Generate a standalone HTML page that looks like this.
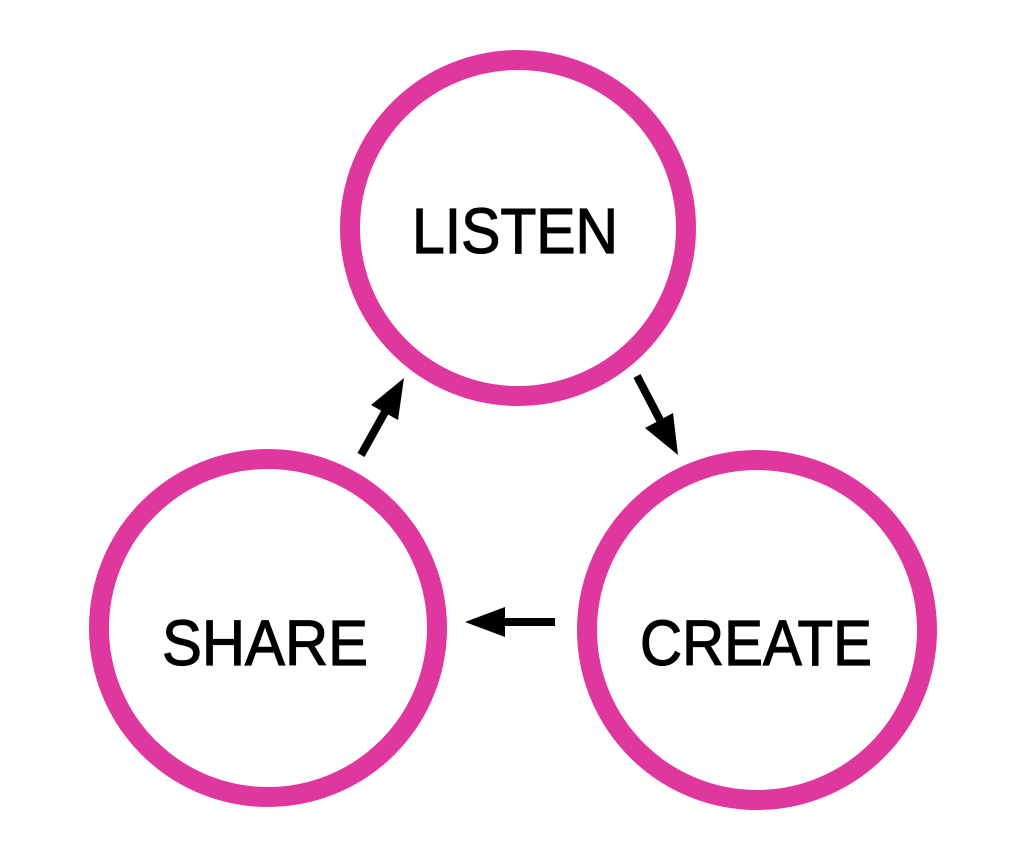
<!DOCTYPE html>
<html><head><style>html,body{margin:0;padding:0;background:#fff}</style></head>
<body>
<svg width="1024" height="862" viewBox="0 0 1024 862" xmlns="http://www.w3.org/2000/svg">
<g fill="none" stroke="#E0379F" stroke-width="20">
<circle cx="518" cy="228" r="168"/>
<circle cx="268" cy="628" r="169"/>
<circle cx="757" cy="630" r="170"/>
</g>
<g stroke="#000" stroke-width="8">
<line x1="637" y1="376" x2="660" y2="420"/>
<line x1="555" y1="622" x2="500" y2="622"/>
<line x1="361" y1="455" x2="385" y2="412"/>
</g>
<g fill="#000">
<polygon points="678,455 645,428 673,413"/>
<polygon points="465,622 505,607 505,637"/>
<polygon points="404,378 398,420 371,405"/>
</g>
<g font-family="Liberation Sans, sans-serif" font-size="64" fill="#000" stroke="#000" stroke-width="1.2">
<text x="412" y="253" textLength="206" lengthAdjust="spacingAndGlyphs">LISTEN</text>
<text x="162" y="665" textLength="206" lengthAdjust="spacingAndGlyphs">SHARE</text>
<text x="640" y="665" textLength="232" lengthAdjust="spacingAndGlyphs">CREATE</text>
</g>
</svg>
</body></html>
